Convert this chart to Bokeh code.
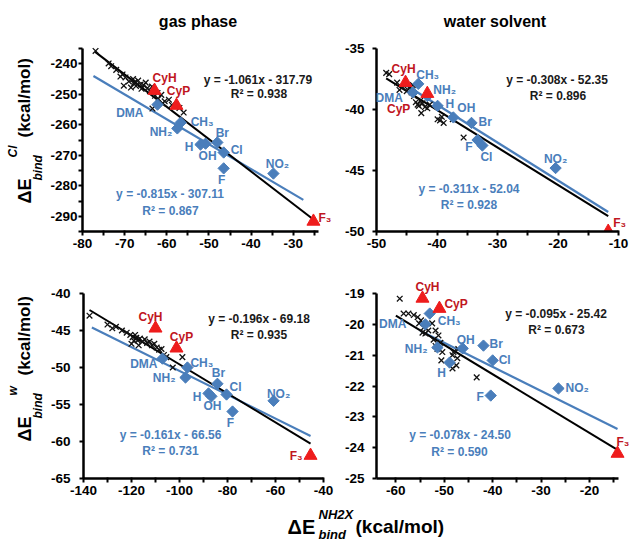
import numpy as np
from bokeh.plotting import figure
from bokeh.layouts import column, row
from bokeh.models import Range1d, FixedTicker, Label, CustomJSTickFormatter
from bokeh.embed import file_html
from bokeh.resources import INLINE

FONT = "Liberation Sans"
BLUE = "#4A7EBB"
BLUE_TXT = "#4A7EBB"
RED = "#EE1C1C"
RED_TXT = "#C0161E"

# ---------------- data ----------------
sub_names = ["DMA", "CH₃", "NH₂", "H", "OH", "Br", "Cl", "F", "NO₂"]
tri_names = ["CyH", "CyP", "F₃"]

# gas phase, Cl (top-left)
gcl_cross_x = [-76.9, -73.8, -73.2, -72.0, -71.0, -70.5, -70.2, -69.8, -69.0, -68.5, -68.0, -67.8, -67.6,
               -67.3, -66.8, -66.2, -66.0, -65.5, -65.0, -64.6, -64.0, -63.5, -63.4, -62.8, -62.2, -62.0,
               -61.3, -61.0, -60.5, -59.5, -58.8, -57.0, -56.0]
gcl_cross_y = [-235.8, -239.9, -240.8, -242.0, -244.2, -243.5, -247.2, -244.5, -245.8, -247.8, -245.0, -246.5,
               -246.0, -247.3, -245.5, -246.8, -248.2, -247.0, -246.2, -248.0, -249.0, -247.5, -254.7, -250.5,
               -249.6, -251.5, -250.2, -253.0, -252.3, -251.8, -253.5, -254.5, -256.0]
gcl_sub_x = [-62.2, -56.7, -57.5, -52.0, -50.8, -48.0, -46.5, -46.5, -34.7]
gcl_sub_y = [-253.4, -259.3, -261.2, -266.5, -266.2, -265.8, -269.1, -274.3, -276.0]
gcl_tri_x = [-62.9, -57.7, -25.2]
gcl_tri_y = [-248.8, -253.7, -291.7]
gcl_fit_all = [-1.061, -317.79, 0.938]
gcl_fit_sub = [-0.815, -307.11, 0.867]
gcl_fit_all_x = [-77.0, -25.2]
gcl_fit_sub_x = [-77.4, -27.6]

# water solvent, Cl (top-right)
wcl_cross_x = [-48.4, -47.9, -46.6, -46.2, -45.8, -45.4, -45.0, -44.6, -44.2, -44.0, -43.8, -43.5, -43.2,
               -43.0, -42.8, -42.6, -42.4, -42.0, -41.6, -41.2, -39.9, -39.5, -39.2, -38.9, -37.4, -35.6]
wcl_cross_y = [-37.0, -37.1, -37.8, -38.4, -38.2, -38.1, -38.5, -38.2, -38.6, -38.0, -38.9, -39.4, -39.6,
               -39.7, -39.3, -40.3, -39.5, -39.8, -39.9, -39.6, -40.8, -40.9, -40.6, -41.1, -40.8, -42.3]
wcl_sub_x = [-44.0, -43.1, -41.6, -39.9, -37.3, -34.3, -32.5, -33.3, -20.4]
wcl_sub_y = [-38.6, -37.9, -38.9, -39.7, -40.65, -41.1, -42.95, -42.5, -44.8]
wcl_tri_x = [-45.2, -41.6, -11.7]
wcl_tri_y = [-37.8, -38.7, -50.0]
wcl_fit_all = [-0.308, -52.35, 0.896]
wcl_fit_sub = [-0.311, -52.04, 0.928]
wcl_fit_all_x = [-48.4, -11.7]
wcl_fit_sub_x = [-45.5, -11.7]

# gas phase, water (bottom-left)
gw_cross_x = [-137.5, -130.0, -128.0, -126.5, -124.0, -122.0, -120.5, -120.0, -119.5, -119.0, -118.5, -118.0,
              -117.5, -117.0, -116.5, -115.5, -114.5, -113.5, -112.5, -111.5, -110.5, -109.5, -108.5, -107.5,
              -106.5, -105.5, -102.8, -98.8]
gw_cross_y = [-43.0, -44.2, -44.7, -44.5, -45.0, -45.3, -45.6, -46.8, -45.9, -46.4, -45.6, -46.0, -46.3, -47.0,
              -46.1, -46.5, -46.2, -46.7, -46.5, -47.0, -46.8, -47.3, -47.6, -47.5, -48.3, -48.6, -50.0, -48.6]
gw_sub_x = [-107.1, -96.7, -97.5, -87.9, -86.7, -84.2, -80.4, -77.9, -60.8]
gw_sub_y = [-48.8, -50.0, -51.35, -53.5, -53.9, -52.2, -53.65, -55.95, -54.5]
gw_tri_x = [-110.0, -101.25, -45.4]
gw_tri_y = [-44.7, -47.4, -61.9]
gw_fit_all = [-0.196, -69.18, 0.935]
gw_fit_sub = [-0.161, -66.56, 0.731]
gw_fit_all_x = [-137.5, -45.4]
gw_fit_sub_x = [-136.5, -45.4]

# water solvent, water (bottom-right)
ww_cross_x = [-59.2, -58.4, -57.4, -56.3, -55.5, -54.8, -55.2, -54.2, -54.5, -53.9, -53.3, -52.5, -51.8, -51.2,
              -52.2, -51.8, -51.4, -50.8, -50.4, -50.6, -48.3, -48.1, -47.3, -47.1, -47.5, -48.3, -43.3]
ww_cross_y = [-19.17, -19.65, -19.65, -19.7, -19.77, -19.87, -19.97, -20.1, -20.27, -20.3, -20.2, -19.97, -20.2,
              -20.36, -20.5, -20.7, -20.8, -20.6, -20.9, -21.17, -21.0, -20.9, -21.1, -20.8, -21.33, -21.43, -21.72]
ww_sub_x = [-53.9, -53.0, -51.4, -48.9, -46.2, -41.9, -40.0, -40.4, -26.4]
ww_sub_y = [-20.0, -19.65, -20.75, -21.24, -20.78, -20.69, -21.17, -22.31, -22.08]
ww_tri_x = [-54.5, -51.0, -14.2]
ww_tri_y = [-19.16, -19.49, -24.19]
ww_fit_all = [-0.095, -25.42, 0.673]
ww_fit_sub = [-0.078, -24.50, 0.590]
ww_fit_all_x = [-60.0, -14.2]
ww_fit_sub_x = [-55.0, -14.2]

# axis ticks and axis extents
gcl_xticks = [-80, -70, -60, -50, -40, -30]
gcl_yticks = [-290, -280, -270, -260, -250, -240]
gcl_xbounds, gcl_ybounds = [-80, -24], [-295, -235]
wcl_xticks = [-50, -40, -30, -20, -10]
wcl_yticks = [-50, -45, -40, -35]
wcl_xbounds, wcl_ybounds = [-50, -10], [-50, -35]
gw_xticks = [-140, -120, -100, -80, -60, -40]
gw_yticks = [-65, -60, -55, -50, -45, -40]
gw_xbounds, gw_ybounds = [-140, -40], [-65, -40]
ww_xticks = [-60, -50, -40, -30, -20]
ww_yticks = [-25, -24, -23, -22, -21, -20, -19]
ww_xbounds, ww_ybounds = [-64, -14], [-25, -19]

# ---------------- layout / styling ----------------
# canvas box (left, top, w, h) and axis pixel positions (left, top, right, bottom), image pixels
G = {
    "TL": dict(box=(46, 0, 290, 270), ax=(82, 48, 318, 231), ystand=1,
               xm=[-75, -65, -55, -45, -35, -25], ym=[-295, -285, -275, -265, -255, -245, -235]),
    "TR": dict(box=(336, 0, 293, 270), ax=(376, 48, 618, 231), ystand=8,
               xm=[-45, -35, -25, -15], ym=[]),
    "BL": dict(box=(46, 270, 293, 232), ax=(83, 293, 323, 478), ystand=9,
               xm=[-130, -110, -90, -70, -50], ym=[]),
    "BR": dict(box=(339, 270, 290, 232), ax=(376, 293, 618, 478), ystand=8,
               xm=[-55, -45, -35, -25, -15], ym=[]),
}

sub_lab = {
    "TL": {"DMA": ("right", -14, -8), "CH₃": ("left", 10, 1), "NH₂": ("right", -5, -4), "H": ("right", -7, -2),
           "OH": ("center", 2, -12), "Br": ("center", 5, 9), "Cl": ("left", 7, 3), "F": ("center", -2, -12),
           "NO₂": ("center", 4, 10)},
    "TR": {"DMA": ("right", -10, -6), "CH₃": ("left", -2, 9), "NH₂": ("left", 6, 6), "H": ("left", 8, 2),
           "OH": ("left", 4, 9), "Br": ("left", 7, 1), "Cl": ("left", -2, -12), "F": ("right", -5, -7),
           "NO₂": ("center", 0, 9)},
    "BL": {"DMA": ("right", -5, -5), "CH₃": ("left", 3, 5), "NH₂": ("right", -10, -1), "H": ("right", -7, -4),
           "OH": ("center", 1, -10), "Br": ("center", 1, 11), "Cl": ("left", 3, 8), "F": ("center", -2, -11),
           "NO₂": ("center", 5, 7)},
    "BR": {"DMA": ("right", -19, 0), "CH₃": ("left", 8, -7), "NH₂": ("right", -10, -2), "H": ("center", -8, -10),
           "OH": ("center", 3, 8), "Br": ("left", 6, 2), "Cl": ("left", 6, 0), "F": ("right", -7, -1),
           "NO₂": ("left", 7, 0)},
}
tri_lab = {
    "TL": {"CyH": ("left", -2, 13), "CyP": ("center", 2, 15), "F₃": ("left", 5, 3)},
    "TR": {"CyH": ("center", -2, 14), "CyP": ("right", -17, -15), "F₃": ("left", 5, 9)},
    "BL": {"CyH": ("center", -5, 11), "CyP": ("center", 5, 11), "F₃": ("right", -8, 0)},
    "BR": {"CyH": ("center", 5, 11), "CyP": ("left", 5, 5), "F₃": ("left", -1, 12)},
}
# equation text centres (image px): black eq, black R2, blue eq, blue R2
eq_pos = {
    "TL": [(257.5, 79), (258.5, 93), (169.5, 193), (170, 210)],
    "TR": [(556.5, 79), (557.5, 95), (468.5, 188), (468.5, 204)],
    "BL": [(258.5, 318), (258.5, 334), (170, 434), (170, 450)],
    "BR": [(555.5, 313), (556, 329), (459.5, 434), (459, 451)],
}


def scales(g):
    al, at, ar, ab = g["ax"]
    sx = (ar - al) / (g["xb"][1] - g["xb"][0])
    sy = (ab - at) / (g["yb"][1] - g["yb"][0])
    return al, ab, sx, sy


def to_data(g, px, py):
    al, ab, sx, sy = scales(g)
    return g["xb"][0] + (px - al) / sx, g["yb"][0] + (ab - py) / sy


def add_text(p, x, y, text, color="black", size=12, align="center", baseline="middle",
             style="bold", dx=0, dy=0, angle=0.0):
    p.add_layout(Label(x=x, y=y, x_offset=dx, y_offset=dy, text=text, text_color=color,
                       text_font=FONT, text_font_size=f"{size}px", text_font_style=style,
                       text_align=align, text_baseline=baseline, angle=angle))


def eq_text(fit):
    m, b, r2 = fit
    sign = "-" if b < 0 else "+"
    return f"y = {m:.3f}x {sign} {abs(b):.2f}", f"R² = {r2:.3f}"


def make_panel(key, cx, cy, sx_, sy_, tx, ty, fit_all, fit_sub, fx_all, fx_sub, xticks, yticks, xb, yb):
    g = G[key]
    g["xb"], g["yb"] = xb, yb
    left, top, w, h = g["box"]
    al, ab, sx, sy = scales(g)
    xr = (xb[0], xb[0] + (left + w - al) / sx)
    yr = (yb[0], yb[0] + (ab - top) / sy)
    p = figure(width=w, height=h, x_range=Range1d(*xr), y_range=Range1d(*yr),
               output_backend="svg", toolbar_location=None, min_border=0,
               min_border_left=al - left, min_border_right=0,
               min_border_top=0, min_border_bottom=top + h - ab)
    p.grid.visible = False
    p.outline_line_color = None
    p.background_fill_color = "white"
    p.border_fill_color = "white"
    p.xaxis.ticker = FixedTicker(ticks=xticks, minor_ticks=g["xm"])
    p.yaxis.ticker = FixedTicker(ticks=yticks, minor_ticks=g["ym"])
    p.xaxis.bounds = tuple(xb)
    p.yaxis.bounds = tuple(yb)
    fmt = CustomJSTickFormatter(code="return String(tick);")
    for ax in (p.xaxis[0], p.yaxis[0]):
        ax.formatter = fmt
        ax.axis_line_width = 2.5
        ax.axis_line_color = "black"
        ax.major_tick_line_width = 2
        ax.minor_tick_line_width = 2
        ax.major_label_text_font = FONT
        ax.major_label_text_font_size = "13.5px"
        ax.major_label_text_font_style = "bold"
        ax.major_label_text_color = "black"
    xa_, ya_ = p.xaxis[0], p.yaxis[0]
    xa_.major_tick_in, xa_.major_tick_out, xa_.minor_tick_in, xa_.minor_tick_out = 1, 4, 1, 4
    ya_.major_tick_in, ya_.major_tick_out, ya_.minor_tick_in, ya_.minor_tick_out = 0, 4, 0, 4
    xa_.major_label_standoff = 3
    ya_.major_label_standoff = g["ystand"]

    # trend lines
    xa = np.array(fx_all)
    xs = np.array(fx_sub)
    p.line(xs, fit_sub[0] * xs + fit_sub[1], line_color=BLUE, line_width=2.2)
    p.line(xa, fit_all[0] * xa + fit_all[1], line_color="black", line_width=2.0)
    # points
    p.scatter(cx, cy, marker="x", size=8, line_color="#111111", line_width=1.3)
    p.scatter(sx_, sy_, marker="square", angle=np.pi / 4, size=8, fill_color=BLUE, line_color=BLUE)
    p.scatter(tx, ty, marker="triangle", size=13, fill_color=RED, line_color=RED)

    for n, x, y in zip(sub_names, sx_, sy_):
        al_, dx, dy = sub_lab[key][n]
        add_text(p, x, y, n, BLUE_TXT, 12, al_, "middle", "bold", dx, dy)
    for n, x, y in zip(tri_names, tx, ty):
        al_, dx, dy = tri_lab[key][n]
        add_text(p, x, y, n, RED_TXT, 12, al_, "middle", "bold", dx, dy)

    e1, r1 = eq_text(fit_all)
    e2, r2 = eq_text(fit_sub)
    for (px, py), t, c in zip(eq_pos[key], [e1, r1, e2, r2], ["#1a1a1a", "#1a1a1a", BLUE_TXT, BLUE_TXT]):
        x, y = to_data(g, px, py)
        add_text(p, x, y, t, c, 12, "center", "middle", "bold")
    return p, g


pTL, gTL = make_panel("TL", gcl_cross_x, gcl_cross_y, gcl_sub_x, gcl_sub_y, gcl_tri_x, gcl_tri_y,
                      gcl_fit_all, gcl_fit_sub, gcl_fit_all_x, gcl_fit_sub_x, gcl_xticks, gcl_yticks,
                      gcl_xbounds, gcl_ybounds)
pTR, gTR = make_panel("TR", wcl_cross_x, wcl_cross_y, wcl_sub_x, wcl_sub_y, wcl_tri_x, wcl_tri_y,
                      wcl_fit_all, wcl_fit_sub, wcl_fit_all_x, wcl_fit_sub_x, wcl_xticks, wcl_yticks,
                      wcl_xbounds, wcl_ybounds)
pBL, gBL = make_panel("BL", gw_cross_x, gw_cross_y, gw_sub_x, gw_sub_y, gw_tri_x, gw_tri_y,
                      gw_fit_all, gw_fit_sub, gw_fit_all_x, gw_fit_sub_x, gw_xticks, gw_yticks,
                      gw_xbounds, gw_ybounds)
pBR, gBR = make_panel("BR", ww_cross_x, ww_cross_y, ww_sub_x, ww_sub_y, ww_tri_x, ww_tri_y,
                      ww_fit_all, ww_fit_sub, ww_fit_all_x, ww_fit_sub_x, ww_xticks, ww_yticks,
                      ww_xbounds, ww_ybounds)

# column titles
x, y = to_data(gTL, 197.5, 20.5)
add_text(pTL, x, y, "gas phase", "black", 16, "center", "middle", "bold")
x, y = to_data(gTR, 494.5, 20.5)
add_text(pTR, x, y, "water solvent", "black", 16, "center", "middle", "bold")


def strip_fig(w, h):
    s = figure(width=w, height=h, x_range=Range1d(0, w), y_range=Range1d(h, 0),
               output_backend="svg", toolbar_location=None, min_border=0,
               x_axis_location=None, y_axis_location=None)
    s.grid.visible = False
    s.outline_line_color = None
    s.scatter([], [])
    return s


# left strip with the rotated y-axis titles (data coords = image px)
left = strip_fig(46, 541)
ROT = np.pi / 2
for sup, d in [("Cl", 0), ("w", 238)]:
    add_text(left, 24, 137 + d, "(kcal/mol)", "black", 17, "left", "middle", "bold", angle=ROT)
    add_text(left, 24, 203 + d, "ΔE", "black", 18, "left", "middle", "bold", angle=ROT)
    add_text(left, 37, 180 + d, "bind", "black", 12, "left", "middle", "bold italic", angle=ROT)
    add_text(left, 12, 157 + d, sup, "black", 12, "left", "middle", "bold italic", angle=ROT)

# bottom strip with the x-axis title (data coords = image px - (46, 502))
bottom = strip_fig(583, 39)
add_text(bottom, 287 - 46, 526 - 502, "ΔE", "black", 20, "left", "alphabetic", "bold")
add_text(bottom, 318 - 46, 514 - 502, "NH2X", "black", 13, "left", "alphabetic", "bold italic")
add_text(bottom, 318 - 46, 534 - 502, "bind", "black", 13, "left", "alphabetic", "bold italic")
add_text(bottom, 355 - 46, 526 - 502, "(kcal/mol)", "black", 19, "left", "alphabetic", "bold")

layout = row(left, column(row(pTL, pTR), row(pBL, pBR), bottom))
open("out.html", "w").write(file_html(layout, INLINE))
